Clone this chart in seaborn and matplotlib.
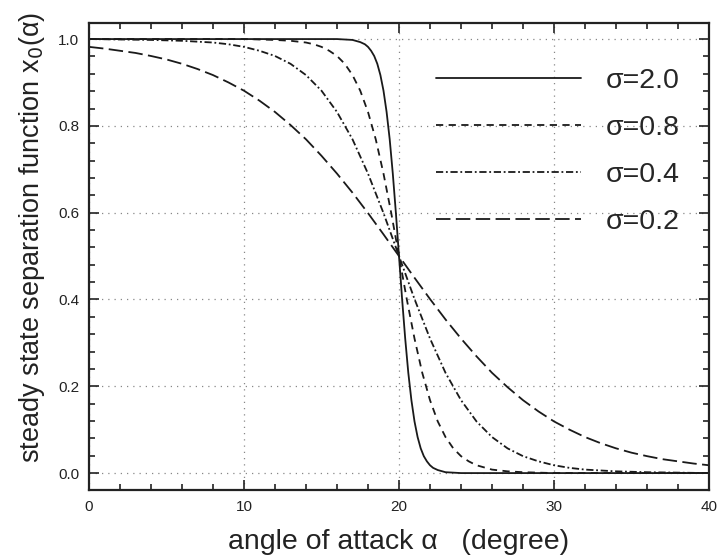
import numpy as np
import pandas as pd
import matplotlib
matplotlib.use("Agg")
import matplotlib.pyplot as plt
from matplotlib.ticker import MultipleLocator, FormatStrFormatter
import seaborn as sns

# ---- data ----
labels = ["σ=2.0", "σ=0.8", "σ=0.4", "σ=0.2"]

alpha_s20 = [0, 15, 16, 16.5, 17, 17.5, 17.8, 18.0, 18.2, 18.4, 18.6, 18.8, 19.0, 19.2, 19.4,
             19.6, 19.8, 20.0, 20.2, 20.4, 20.6, 20.8, 21.0, 21.2, 21.4, 21.6, 21.8, 22.0,
             22.2, 22.5, 23, 24, 40]
x0_s20 = [1.000, 1.000, 1.000, 0.999, 0.998, 0.993, 0.988, 0.982, 0.973, 0.961, 0.943, 0.917,
          0.881, 0.832, 0.769, 0.690, 0.599, 0.500, 0.401, 0.310, 0.231, 0.168, 0.119, 0.083,
          0.057, 0.039, 0.027, 0.018, 0.012, 0.007, 0.002, 0.000, 0.000]

alpha_s08 = [0, 10, 12, 13, 14, 14.5, 15, 15.5, 16, 16.5, 17, 17.5, 18, 18.5, 19, 19.5, 20,
             20.5, 21, 21.5, 22, 22.5, 23, 23.5, 24, 24.5, 25, 26, 27, 28, 30, 40]
x0_s08 = [1.000, 1.000, 0.998, 0.996, 0.992, 0.988, 0.982, 0.973, 0.961, 0.943, 0.917, 0.881,
          0.832, 0.769, 0.690, 0.599, 0.500, 0.401, 0.310, 0.231, 0.168, 0.119, 0.083, 0.057,
          0.039, 0.027, 0.018, 0.008, 0.004, 0.002, 0.000, 0.000]

alpha_s04 = [0, 4, 6, 8, 9, 10, 11, 12, 13, 14, 15, 16, 17, 18, 19, 20, 21, 22, 23, 24, 25,
             26, 27, 28, 29, 30, 31, 32, 34, 36, 40]
x0_s04 = [1.000, 0.998, 0.996, 0.992, 0.988, 0.982, 0.973, 0.961, 0.943, 0.917, 0.881, 0.832,
          0.769, 0.690, 0.599, 0.500, 0.401, 0.310, 0.231, 0.168, 0.119, 0.083, 0.057, 0.039,
          0.027, 0.018, 0.012, 0.008, 0.004, 0.002, 0.000]

alpha_s02 = list(range(0, 41))
x0_s02 = [0.982, 0.978, 0.973, 0.968, 0.961, 0.953, 0.943, 0.931, 0.917, 0.900, 0.881, 0.858,
          0.832, 0.802, 0.769, 0.731, 0.690, 0.646, 0.599, 0.550, 0.500, 0.450, 0.401, 0.354,
          0.310, 0.269, 0.231, 0.198, 0.168, 0.142, 0.119, 0.100, 0.083, 0.069, 0.057, 0.047,
          0.039, 0.032, 0.027, 0.022, 0.018]

x_ticks = [0, 10, 20, 30, 40]
y_ticks = [0.0, 0.2, 0.4, 0.6, 0.8, 1.0]

series = [(alpha_s20, x0_s20), (alpha_s08, x0_s08), (alpha_s04, x0_s04), (alpha_s02, x0_s02)]
styles = ["-", (0, (4, 3)), (0, (4, 1.5, 1, 1.5)), (0, (8, 3))]

sns.set_theme(style="ticks")
plt.rcParams["font.family"] = ["Liberation Sans", "DejaVu Sans"]
plt.rcParams["xtick.direction"] = "in"
plt.rcParams["ytick.direction"] = "in"

fig = plt.figure(figsize=(7.2, 5.55), dpi=100)
ax = fig.add_axes([89 / 720, 65 / 555, 620 / 720, 467 / 555])

for (xs, ys), lab, ls in zip(series, labels, styles):
    df = pd.DataFrame({"alpha": xs, "x0": ys})
    sns.lineplot(data=df, x="alpha", y="x0", ax=ax, color="#1a1a1a", linewidth=1.3,
                 linestyle=ls, label=lab, estimator=None)

ax.set_xlim(0, 40)
ax.set_ylim(-0.039, 1.037)
ax.set_xticks(x_ticks)
ax.set_yticks(y_ticks)
ax.yaxis.set_major_formatter(FormatStrFormatter("%.1f"))
ax.xaxis.set_minor_locator(MultipleLocator(2))
ax.yaxis.set_minor_locator(MultipleLocator(0.04))
ax.tick_params(which="both", direction="in", top=True, right=True, width=1.2, colors="#222222",
               labelsize=11)
ax.tick_params(which="major", length=7, pad=7)
ax.tick_params(which="minor", length=4)
for sp in ax.spines.values():
    sp.set_linewidth(1.6)
    sp.set_color("#222222")
    sp.set_visible(True)

ax.grid(True, which="major", linestyle=(0, (1, 4)), color="#888888", linewidth=0.9)

ax.set_xlabel("angle of attack α   (degree)", fontsize=20.5, color="#222222", labelpad=11)
ax.set_ylabel("steady state separation function x$_0$(α)", fontsize=19.5, color="#222222",
              labelpad=8)
ax.yaxis.label.set_y(0.54)

leg = ax.legend(loc="upper right", bbox_to_anchor=(0.953, 0.904), frameon=False, fontsize=20.5,
                handlelength=5.1, handletextpad=0.88, labelspacing=0.74,
                borderpad=0, borderaxespad=0)

fig.savefig("out.png", dpi=100)
